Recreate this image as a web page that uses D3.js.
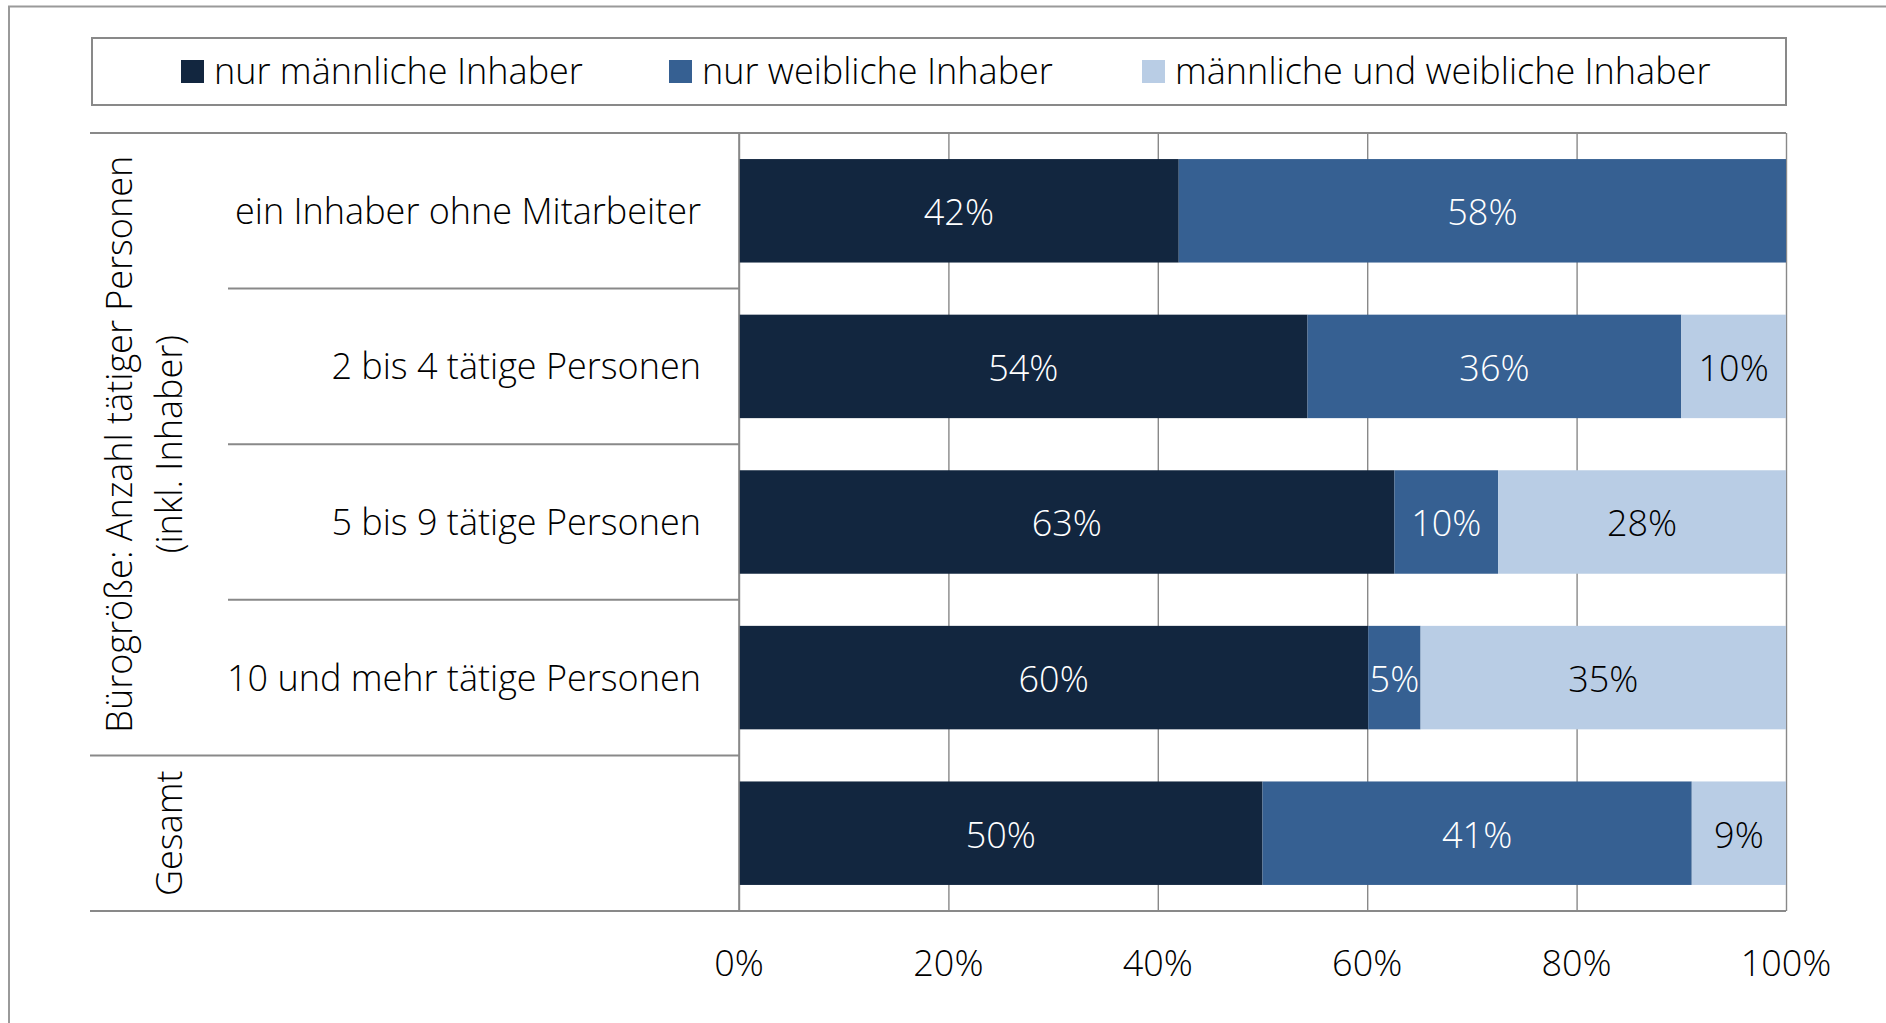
<!DOCTYPE html>
<html>
<head>
<meta charset="utf-8">
<script src="https://cdn.jsdelivr.net/npm/d3@7"></script>
<style>
  body { margin: 0; background: #fff; }
  text { font-family: "Open Sans", "DejaVu Sans", sans-serif; }
</style>
</head>
<body>
<script>
//chart size
var totalWidth = 1886;
var totalHeight = 1023;
var fontSize = 36;

//data
var categories = ["ein Inhaber ohne Mitarbeiter", "2 bis 4 tätige Personen", "5 bis 9 tätige Personen", "10 und mehr tätige Personen", "Gesamt"];
var seriesNames = ["nur männliche Inhaber", "nur weibliche Inhaber", "männliche und weibliche Inhaber"];
var maleOnly   = [42.0, 54.3, 62.6, 60.1, 50.0];
var femaleOnly = [58.0, 35.7,  9.9,  5.0, 41.0];
var mixed      = [ 0.0, 10.0, 27.5, 34.9,  9.0];
var xTicks = [0, 20, 40, 60, 80, 100];

//colors
var colors = ["#12263f", "#366092", "#b9cde5"];
var labelColors = ["#ffffff", "#ffffff", "#000000"];
var lineColor = "#898989";

var plot = {left: 739, right: 1786, top: 133, bottom: 911};

var svg = d3.select("body").append("svg")
    .attr("width", totalWidth)
    .attr("height", totalHeight);

//outer frame (cut off at right and bottom)
svg.append("path")
    .attr("d", "M9,1023 V6.5 H1886")
    .attr("fill", "none")
    .attr("stroke", "#9a9a9a")
    .attr("stroke-width", 2);

//scales
var xScale = d3.scaleLinear().domain([0, 100]).range([plot.left, plot.right]);
var yScale = d3.scaleBand()
    .domain(categories)
    .range([plot.top, plot.bottom])
    .paddingInner(0.335)
    .paddingOuter(0.1675);

//legend
var legend = svg.append("g");
legend.append("rect")
    .attr("x", 92).attr("y", 38)
    .attr("width", 1694).attr("height", 67)
    .attr("fill", "#fff")
    .attr("stroke", lineColor)
    .attr("stroke-width", 2);
var legendX = [181, 669, 1142];
seriesNames.forEach(function (name, i) {
    legend.append("rect")
        .attr("x", legendX[i]).attr("y", 60)
        .attr("width", 23).attr("height", 23)
        .attr("fill", colors[i]);
    legend.append("text")
        .attr("x", legendX[i] + 33).attr("y", 84)
        .attr("font-size", fontSize)
        .attr("font-weight", 300)
        .attr("fill", "#000")
        .text(name);
});

//grid lines
svg.append("g")
    .attr("transform", "translate(0," + plot.bottom + ")")
    .call(d3.axisBottom(xScale).tickValues(xTicks).tickSize(-(plot.bottom - plot.top)).tickFormat(""))
    .call(g => g.select(".domain").remove())
    .call(g => g.selectAll(".tick line").attr("stroke", lineColor).attr("stroke-width", 1.4));

//stacked bars
var stackData = categories.map(function (c, i) {
    return {cat: c, m: maleOnly[i], f: femaleOnly[i], b: mixed[i]};
});
var stack = d3.stack().keys(["m", "f", "b"]);
var layers = stack(stackData);

var layerG = svg.selectAll(".layer")
    .data(layers)
    .enter().append("g")
    .attr("class", "layer")
    .attr("fill", (d, i) => colors[i]);

layerG.selectAll("rect")
    .data(d => d)
    .enter().append("rect")
    .attr("x", d => xScale(d[0]))
    .attr("y", d => yScale(d.data.cat))
    .attr("width", d => xScale(d[1]) - xScale(d[0]))
    .attr("height", yScale.bandwidth());

//data labels
layers.forEach(function (layer, li) {
    svg.append("g").selectAll("text")
        .data(layer.filter(d => d[1] - d[0] > 0))
        .enter().append("text")
        .attr("x", d => (xScale(d[0]) + xScale(d[1])) / 2)
        .attr("y", d => yScale(d.data.cat) + yScale.bandwidth() / 2)
        .attr("dy", "0.4em")
        .attr("text-anchor", "middle")
        .attr("font-size", fontSize)
        .attr("font-weight", 300)
        .attr("fill", labelColors[li])
        .text(d => Math.round(d[1] - d[0]) + "%");
});

//axis frame lines
var step = yScale.step();
var frame = svg.append("g")
    .attr("stroke", lineColor)
    .attr("fill", "none");
frame.append("line")
    .attr("x1", 90).attr("x2", plot.right)
    .attr("y1", plot.top).attr("y2", plot.top)
    .attr("stroke-width", 2);
frame.append("line")
    .attr("x1", 90).attr("x2", plot.right)
    .attr("y1", plot.bottom).attr("y2", plot.bottom)
    .attr("stroke-width", 2);
frame.append("line")
    .attr("x1", plot.left).attr("x2", plot.left)
    .attr("y1", plot.top).attr("y2", plot.bottom)
    .attr("stroke-width", 1.6);
//category separators
[1, 2, 3, 4].forEach(function (i) {
    frame.append("line")
        .attr("x1", i === 4 ? 90 : 228).attr("x2", plot.left)
        .attr("y1", plot.top + i * step).attr("y2", plot.top + i * step)
        .attr("stroke-width", 2);
});

//category labels
svg.append("g").selectAll("text")
    .data(categories.slice(0, 4))
    .enter().append("text")
    .attr("x", 701)
    .attr("y", d => yScale(d) + yScale.bandwidth() / 2)
    .attr("dy", "0.36em")
    .attr("text-anchor", "end")
    .attr("font-size", fontSize)
    .attr("font-weight", 300)
    .text(d => d);

//group labels (rotated)
var groupMid = plot.top + 2 * step;
svg.append("text")
    .attr("transform", "translate(132," + groupMid + ") rotate(-90)")
    .attr("text-anchor", "middle")
    .attr("font-size", fontSize)
    .attr("font-weight", 300)
    .text("Bürogröße: Anzahl tätiger Personen");
svg.append("text")
    .attr("transform", "translate(182," + groupMid + ") rotate(-90)")
    .attr("text-anchor", "middle")
    .attr("font-size", fontSize)
    .attr("font-weight", 300)
    .text("(inkl. Inhaber)");
svg.append("text")
    .attr("transform", "translate(182," + (yScale("Gesamt") + yScale.bandwidth() / 2) + ") rotate(-90)")
    .attr("text-anchor", "middle")
    .attr("font-size", fontSize)
    .attr("font-weight", 300)
    .text("Gesamt");

//x tick labels
svg.append("g").selectAll("text")
    .data(xTicks)
    .enter().append("text")
    .attr("x", d => xScale(d))
    .attr("y", 976)
    .attr("text-anchor", "middle")
    .attr("font-size", fontSize)
    .attr("font-weight", 300)
    .text(d => d + "%");
</script>
</body>
</html>
